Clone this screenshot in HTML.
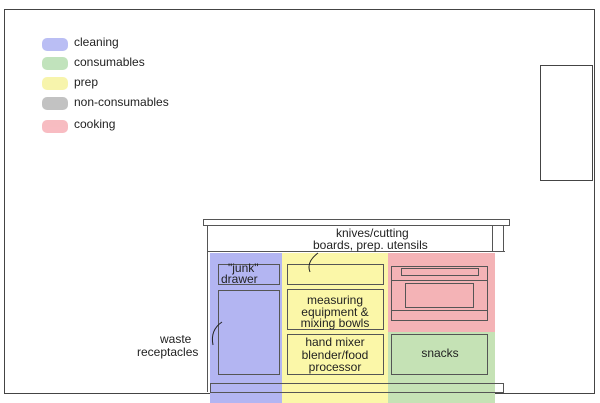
<!DOCTYPE html><html><head><style>body{margin:0;background:#fff}svg{display:block}text{font-family:"Comic Sans MS","Liberation Sans",sans-serif;fill:#222}</style></head><body>
<svg width="600" height="403" viewBox="0 0 600 403" xmlns="http://www.w3.org/2000/svg">
<rect x="4.5" y="9.5" width="590" height="384" fill="none" stroke="#444"/>
<rect x="540.5" y="65.5" width="52" height="115" fill="none" stroke="#444"/>
<rect x="210" y="253" width="72" height="150" fill="#b3b5f2"/>
<rect x="282" y="253" width="106" height="150" fill="#fbf7a8"/>
<rect x="388" y="253" width="107" height="79" fill="#f4b3b6"/>
<rect x="388" y="332" width="107" height="71" fill="#c5e2b5"/>
<g fill="none" stroke="#555">
<rect x="203.5" y="219.5" width="306" height="6"/>
<line x1="207.5" y1="226" x2="207.5" y2="392"/><line x1="492.5" y1="226" x2="492.5" y2="252"/>
<line x1="207" y1="251.5" x2="505" y2="251.5"/><line x1="503.5" y1="226" x2="503.5" y2="252"/>
<rect x="210.5" y="383.5" width="293" height="9"/>
<rect x="218.5" y="264.5" width="61" height="20"/><rect x="218.5" y="290.5" width="61" height="84"/>
<rect x="287.5" y="264.5" width="96" height="20"/><rect x="287.5" y="289.5" width="96" height="40"/><rect x="287.5" y="334.5" width="96" height="40"/>
<rect x="391.5" y="266.5" width="96" height="54"/><rect x="401.5" y="268.5" width="77" height="7"/><rect x="405.5" y="283.5" width="68" height="24"/>
<line x1="391" y1="280.5" x2="488" y2="280.5"/><line x1="391" y1="310.5" x2="488" y2="310.5"/>
<rect x="391.5" y="334.5" width="96" height="40"/>
<path d="M213 345 Q210 330 222 322" stroke="#222"/><path d="M310 272 Q306 262 318 253" stroke="#222"/>
</g>
<g font-size="12">
<text x="74" y="46">cleaning</text><text x="74" y="66">consumables</text><text x="74" y="86">prep</text><text x="74" y="106">non-consumables</text><text x="74" y="128">cooking</text>
<text x="336" y="237">knives/cutting</text><text x="313" y="249">boards, prep. utensils</text>
<text x="228" y="272">"junk"</text><text x="221" y="283">drawer</text>
<text x="160" y="343">waste</text><text x="137" y="356">receptacles</text>
<text x="335" y="304" text-anchor="middle">measuring</text><text x="335" y="316" text-anchor="middle">equipment &amp;</text><text x="335" y="327" text-anchor="middle">mixing bowls</text>
<text x="335" y="346" text-anchor="middle">hand mixer</text><text x="335" y="359" text-anchor="middle">blender/food</text><text x="335" y="371" text-anchor="middle">processor</text>
<text x="440" y="357" text-anchor="middle">snacks</text>
</g>
<g opacity="0.7">
<rect x="42" y="38" width="26" height="13" rx="5" fill="#9ea3f0"/>
<rect x="42" y="57" width="26" height="13" rx="5" fill="#a8d8a0"/>
<rect x="42" y="77" width="26" height="13" rx="5" fill="#f5f08a"/>
<rect x="42" y="97" width="26" height="13" rx="5" fill="#a9a9a9"/>
<rect x="42" y="120" width="26" height="13" rx="5" fill="#f5a0a8"/>
</g>
</svg></body></html>
